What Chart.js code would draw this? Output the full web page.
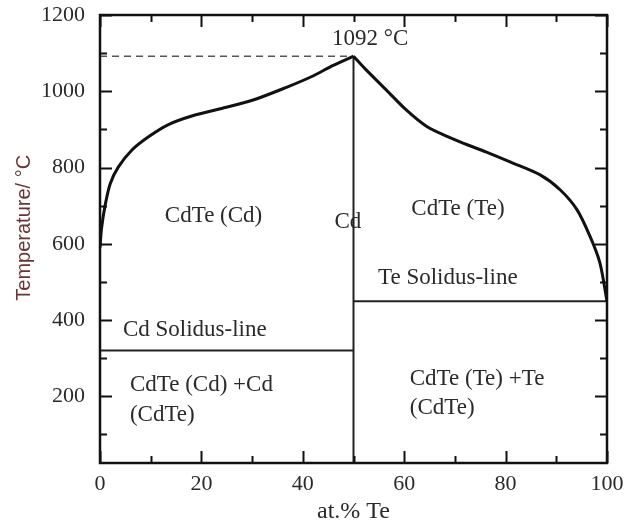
<!DOCTYPE html>
<html>
<head>
<meta charset="utf-8">
<title>CdTe phase diagram</title>
<script src="https://cdn.jsdelivr.net/npm/chart.js@4.4.1/dist/chart.umd.min.js"></script>
<style>
  html, body { margin: 0; padding: 0; background: #fff; }
  #wrap { width: 624px; height: 524px; }
</style>
</head>
<body>
<div id="wrap"><canvas id="phaseChart"></canvas></div>
<script>
// liquidus, lado Cd (0 -> 50 at.% Te)
const leftX = [0, 0.3, 1, 2, 3.6, 6.3, 9.5, 13.4, 18.1, 23.7, 30.2, 36.9, 42, 46, 50];
const leftY = [590, 640, 700, 757, 801, 846, 880, 912, 935, 954, 977, 1011, 1040, 1068, 1092];
// liquidus, lado Te (50 -> 100 at.% Te)
const rightX = [50, 52.5, 56.5, 60.4, 64.3, 68.2, 72.2, 76.1, 81, 86.9, 90.8, 94.1, 96.7, 98.6, 100];
const rightY = [1092, 1056, 1003, 951, 909, 883, 861, 841, 814, 780, 741, 689, 618, 550, 449];

const meltPoint = 1092;   // CdTe congruente
const cdSolidus = 320;
const teSolidus = 449;
const compositionX = 50;

const xMajor = [0, 20, 40, 60, 80, 100];
const xMinor = [10, 30, 50, 70, 90];
const yMajor = [200, 400, 600, 800, 1000, 1200];
const yMinor = [100, 300, 500, 700, 900, 1100];

// textos dentro do gráfico: [texto, x, y, alinhamento]
const labels = [
  ['1092 °C', 53.3, 1137, 'center'],
  ['CdTe (Cd)', 22.4, 673, 'center'],
  ['Cd', 48.9, 657, 'center'],
  ['CdTe (Te)', 70.6, 691, 'center'],
  ['Te Solidus-line', 68.6, 510, 'center'],
  ['Cd Solidus-line', 18.7, 374, 'center'],
  ['CdTe (Cd) +Cd', 5.9, 230, 'left'],
  ['(CdTe)', 5.9, 151, 'left'],
  ['CdTe (Te) +Te', 61.1, 245, 'left'],
  ['(CdTe)', 61.1, 169, 'left']
];

const pts = (xs, ys) => xs.map((v, i) => ({ x: v, y: ys[i] }));
const serif = '"Liberation Serif", "Times New Roman", serif';
const textColor = '#2a2a2a';

// moldura com ticks para dentro nos quatro lados + textos
const framePlugin = {
  id: 'frame',
  afterDatasetsDraw(chart) {
    const { ctx, chartArea: a, scales: { x, y } } = chart;
    ctx.save();
    ctx.strokeStyle = '#111';
    ctx.lineWidth = 2;
    const drawX = (vals, len) => vals.forEach(v => {
      const px = Math.round(x.getPixelForValue(v)) + 0.5;
      ctx.beginPath();
      ctx.moveTo(px, a.bottom); ctx.lineTo(px, a.bottom - len);
      ctx.moveTo(px, a.top); ctx.lineTo(px, a.top + len);
      ctx.stroke();
    });
    const drawY = (vals, len) => vals.forEach(v => {
      const py = Math.round(y.getPixelForValue(v)) + 0.5;
      ctx.beginPath();
      ctx.moveTo(a.left, py); ctx.lineTo(a.left + len, py);
      ctx.moveTo(a.right, py); ctx.lineTo(a.right - len, py);
      ctx.stroke();
    });
    drawX(xMajor, 12); drawX(xMinor, 7);
    drawY(yMajor, 12); drawY(yMinor, 7);

    ctx.lineWidth = 2.5;
    ctx.strokeRect(a.left, a.top, a.right - a.left, a.bottom - a.top);

    ctx.fillStyle = textColor;
    ctx.font = '23px ' + serif;
    ctx.textBaseline = 'middle';
    labels.forEach(([t, lx, ly, al]) => {
      ctx.textAlign = al;
      ctx.fillText(t, x.getPixelForValue(lx), y.getPixelForValue(ly));
    });

    // título do eixo y
    ctx.translate(24, a.top + (a.bottom - a.top) * 0.475);
    ctx.rotate(-Math.PI / 2);
    ctx.textAlign = 'center';
    ctx.fillStyle = '#6a3434';
    ctx.font = '20px "Liberation Sans", Arial, sans-serif';
    ctx.fillText('Temperature/ °C', 0, 0);
    ctx.restore();
  }
};

const ctx = document.getElementById('phaseChart').getContext('2d');

new Chart(ctx, {
  type: 'scatter',
  data: {
    datasets: [
      { data: pts(leftX, leftY), borderColor: '#111', borderWidth: 3, tension: 0.3 },
      { data: pts(rightX, rightY), borderColor: '#111', borderWidth: 3, tension: 0.3 },
      { data: [{ x: compositionX, y: 25 }, { x: compositionX, y: meltPoint }], borderColor: '#222', borderWidth: 2 },
      { data: [{ x: 0, y: cdSolidus }, { x: compositionX, y: cdSolidus }], borderColor: '#222', borderWidth: 2 },
      { data: [{ x: compositionX, y: teSolidus }, { x: 100, y: teSolidus }], borderColor: '#222', borderWidth: 2 },
      { data: [{ x: 0, y: meltPoint }, { x: compositionX, y: meltPoint }], borderColor: '#555', borderWidth: 1.5, borderDash: [7, 5] }
    ].map(d => Object.assign({ showLine: true, pointRadius: 0, fill: false }, d))
  },
  options: {
    responsive: true,
    maintainAspectRatio: false,
    animation: false,
    layout: { padding: { top: 15, right: 17, left: 0, bottom: 0 } },
    plugins: {
      legend: { display: false },
      tooltip: { enabled: false }
    },
    scales: {
      x: {
        type: 'linear',
        min: 0,
        max: 100,
        grid: { display: false },
        border: { display: false },
        afterBuildTicks: s => { s.ticks = xMajor.map(v => ({ value: v })); },
        afterFit: s => { s.height = 61; s.paddingLeft = 0; s.paddingRight = 0; },
        ticks: {
          color: textColor, padding: 0, font: { family: serif, size: 22 },
          callback: v => String(v)
        },
        title: {
          display: true,
          text: 'at.% Te',
          color: '#2a2a2a',
          padding: { top: 0, bottom: 0 },
          font: { family: serif, size: 24, lineHeight: 1 }
        }
      },
      y: {
        type: 'linear',
        min: 25,
        max: 1200,
        grid: { display: false },
        border: { display: false },
        afterBuildTicks: s => { s.ticks = yMajor.map(v => ({ value: v })); },
        afterFit: s => { s.width = 100; s.paddingTop = 0; s.paddingBottom = 0; },
        ticks: {
          color: textColor, padding: 7, font: { family: serif, size: 22 },
          callback: v => String(v)
        },
        title: { display: false }
      }
    }
  },
  plugins: [framePlugin]
});
</script>
</body>
</html>
